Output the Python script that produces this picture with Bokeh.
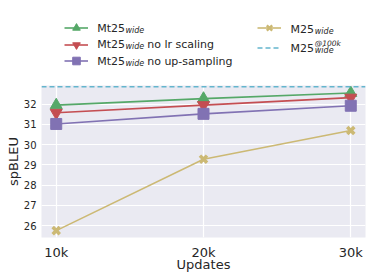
from bokeh.plotting import figure
from bokeh.layouts import column
from bokeh.models import (Range1d, FixedTicker, Span, Legend, LegendItem, Label)
from bokeh.embed import file_html
from bokeh.resources import INLINE

# ---- data ----
updates = [10000, 20000, 30000]
x_tick_labels = ["10k", "20k", "30k"]
y_ticks = [26, 27, 28, 29, 30, 31, 32]
mt25_wide = [31.95, 32.27, 32.55]
mt25_wide_no_lr = [31.57, 31.95, 32.32]
mt25_wide_no_up = [31.02, 31.52, 31.92]
m25_wide = [25.75, 29.28, 30.7]
m25_wide_100k = 32.86

GREEN = "#55a868"
RED = "#c44e52"
PURPLE = "#8172b3"
YELLOW = "#ccb974"
CYAN = "#64b5cd"
TXT = "#262626"
FONT = "DejaVu Sans"
W = 372
FL = 41  # frame left (px)

# ---------------- main chart ----------------
p = figure(width=W, height=193, output_backend="svg", toolbar_location=None,
           x_range=Range1d(9000, 31000), y_range=Range1d(25.41, 32.92),
           min_border_left=FL, min_border_right=W - 365, min_border_top=0,
           min_border_bottom=41)
p.background_fill_color = "#eaeaf2"
p.border_fill_color = "white"
p.outline_line_color = None

p.xaxis.ticker = FixedTicker(ticks=updates)
p.xaxis.major_label_overrides = {u: l for u, l in zip(updates, x_tick_labels)}
p.yaxis.ticker = FixedTicker(ticks=y_ticks)
for ax in (p.xaxis, p.yaxis):
    ax.axis_line_color = None
    ax.major_tick_line_color = None
    ax.minor_tick_line_color = None
    ax.major_tick_out = 0
    ax.major_tick_in = 0
    ax.minor_tick_out = 0
    ax.major_label_text_color = TXT
    ax.major_label_text_font = FONT
    ax.axis_label_text_color = TXT
    ax.axis_label_text_font = FONT
    ax.axis_label_text_font_style = "normal"
p.xaxis.major_label_text_font_size = "13px"
p.yaxis.major_label_text_font_size = "10px"
p.xaxis.axis_label = "Updates"
p.yaxis.axis_label = "spBLEU"
p.xaxis.axis_label_text_font_size = "13px"
p.yaxis.axis_label_text_font_size = "13px"
p.xaxis.major_label_standoff = 7
p.xaxis.axis_label_standoff = -6
p.yaxis.major_label_standoff = 5
p.yaxis.axis_label_standoff = 0
p.xgrid.grid_line_color = "white"
p.ygrid.grid_line_color = "white"
p.xgrid.grid_line_width = 1.2
p.ygrid.grid_line_width = 1.2

p.add_layout(Span(location=m25_wide_100k, dimension="width", line_color=CYAN,
                  line_width=1.6, line_dash="5 3"))

series = [
    (mt25_wide, GREEN, "triangle", 12),
    (mt25_wide_no_lr, RED, "inverted_triangle", 12),
    (mt25_wide_no_up, PURPLE, "square", 11),
]
for ys, col, mk, sz in series:
    p.line(updates, ys, line_color=col, line_width=1.6)
    p.scatter(updates, ys, marker=mk, size=sz, fill_color=col, line_color=col)
p.line(updates, m25_wide, line_color=YELLOW, line_width=1.6)
p.scatter(updates, m25_wide, marker="x", size=10, line_color=YELLOW, line_width=3.5)

# ---------------- legend strip ----------------
# legend keys need renderers with data; they use the series data, which lies
# outside this strip's (0..1) ranges, so only the legend shows them.
t = figure(width=W, height=85, output_backend="svg", toolbar_location=None,
           x_range=Range1d(0, 1), y_range=Range1d(0, 1),
           x_axis_location=None, y_axis_location=None,
           min_border_left=FL, min_border_right=W - 365, min_border_top=0,
           min_border_bottom=0)
t.outline_line_color = None
t.background_fill_color = "white"
t.border_fill_color = "white"
t.xgrid.visible = False
t.ygrid.visible = False

def key(ys, col, mk=None, sz=10, dash="solid", mlw=1):
    rs = [t.line(updates, ys, line_color=col, line_width=1.6, line_dash=dash)]
    if mk is not None:
        rs.append(t.scatter(updates, ys, marker=mk, size=sz, fill_color=col,
                            line_color=col, line_width=mlw))
    return LegendItem(label=" ", renderers=rs)

def legend(item, loc, gh=19):
    t.add_layout(Legend(items=[item], location=loc, padding=0, margin=0,
                        border_line_color=None, background_fill_alpha=0,
                        glyph_width=24, glyph_height=gh, label_height=gh, spacing=0,
                        label_width=1, label_standoff=0, label_text_font_size="6px"),
                 "center")

legend(key(mt25_wide, GREEN, "triangle", 12), (64 - FL, 48.3))
legend(key(mt25_wide_no_lr, RED, "inverted_triangle", 12), (64 - FL, 31.3))
legend(key(mt25_wide_no_up, PURPLE, "square", 11), (64 - FL, 15))
legend(key(m25_wide, YELLOW, "x", 10, mlw=2.4), (257 - FL, 48.5))
legend(key([m25_wide_100k] * len(updates), CYAN, None, dash="5 3"), (257 - FL, 27.8))

def lab(txt, x, y, size="11px", style="normal"):
    t.add_layout(Label(x=x - FL, y=y + 4, x_units="screen", y_units="screen", text=txt,
                       text_font=FONT, text_font_size=size, text_font_style=style,
                       text_color=TXT, text_baseline="alphabetic", text_align="left"))

for base, suffix in ((53.3, None), (36.7, "no lr scaling"), (20.0, "no up-sampling")):
    lab("Mt25", 96.7, base)
    lab("wide", 125, base - 2, size="8px", style="italic")
    if suffix:
        lab(suffix, 146.7, base)
lab("M25", 290, 51.7)
lab("wide", 314.3, 50, size="8px", style="italic")
lab("M25", 290, 33.3)
lab("@100k", 314.3, 38.5, size="7.5px", style="italic")
lab("wide", 314.3, 31, size="8px", style="italic")

open("out.html", "w").write(file_html(column(t, p), INLINE))
